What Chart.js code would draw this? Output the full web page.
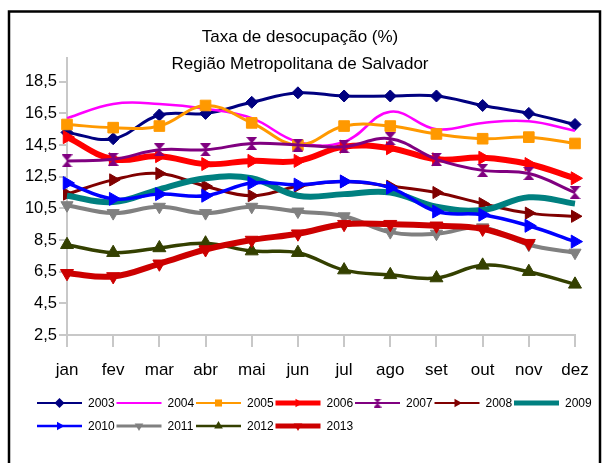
<!DOCTYPE html>
<html><head><meta charset="utf-8">
<script src="https://cdn.jsdelivr.net/npm/chart.js@4"></script>
<style>html,body{margin:0;padding:0;background:#fff;}#wrap{width:607px;height:463px;position:relative;}</style>
</head><body><div id="wrap"><canvas id="c" width="607" height="463"></canvas></div>
<script>
const titleLines = ['Taxa de desocupação (%)', 'Região Metropolitana de Salvador'];
const months = ['jan','fev','mar','abr','mai','jun','jul','ago','set','out','nov','dez'];
const yTicks = [2.5, 4.5, 6.5, 8.5, 10.5, 12.5, 14.5, 16.5, 18.5];
const yTickLabels = ['2,5','4,5','6,5','8,5','10,5','12,5','14,5','16,5','18,5'];
const years = ['2003','2004','2005','2006','2007','2008','2009','2010','2011','2012','2013'];

const v2003 = [15.3, 14.9, 16.4, 16.5, 17.2, 17.8, 17.6, 17.6, 17.6, 17.0, 16.5, 15.8];
const v2004 = [16.2, 17.1, 17.1, 16.8, 16.2, 14.7, 14.7, 16.6, 15.5, 15.9, 16.0, 15.4];
const v2005 = [15.8, 15.6, 15.7, 17.0, 15.9, 14.5, 15.7, 15.7, 15.2, 14.9, 15.0, 14.6];
const v2006 = [15.0, 13.6, 13.8, 13.3, 13.5, 13.5, 14.4, 14.3, 13.6, 13.7, 13.3, 12.4];
const v2007 = [13.5, 13.6, 14.2, 14.2, 14.6, 14.5, 14.4, 14.9, 13.6, 12.9, 12.7, 11.5];
const v2008 = [11.4, 12.3, 12.7, 11.9, 11.3, 11.9, 12.2, 11.9, 11.5, 10.8, 10.2, 10.0];
const v2009 = [11.3, 10.9, 11.7, 12.4, 12.4, 11.3, 11.4, 11.5, 10.6, 10.4, 11.2, 10.8];
const v2010 = [12.1, 11.1, 11.4, 11.3, 12.1, 12.0, 12.2, 11.8, 10.3, 10.1, 9.4, 8.4];
const v2011 = [10.7, 10.2, 10.6, 10.2, 10.6, 10.3, 10.0, 9.0, 8.9, 9.3, 8.2, 7.7];
const v2012 = [8.2, 7.7, 8.0, 8.3, 7.8, 7.7, 6.6, 6.3, 6.1, 6.9, 6.5, 5.7];
const v2013 = [6.4, 6.2, 7.0, 7.9, 8.5, 8.9, 9.5, 9.5, 9.4, 9.2, 8.3, null];
const values = [v2003, v2004, v2005, v2006, v2007, v2008, v2009, v2010, v2011, v2012, v2013];

const FONT = '"Liberation Sans", Arial, sans-serif';

function makeHourglass(w, h, color) {
  const cv = document.createElement('canvas');
  cv.width = w; cv.height = h;
  const g = cv.getContext('2d');
  g.fillStyle = color;
  g.beginPath();
  g.moveTo(0, 0); g.lineTo(w, 0); g.lineTo(w / 2, h / 2); g.closePath();
  g.moveTo(0, h); g.lineTo(w, h); g.lineTo(w / 2, h / 2); g.closePath();
  g.fill();
  return cv;
}

const styles = [
  {color: '#000080', width: 3,   point: 'rectRot',  r: 6,   rot: 0},
  {color: '#ff00ff', width: 2.5, point: false,      r: 0,   rot: 0},
  {color: '#ff9900', width: 3,   point: 'rect',     r: 7.5, rot: 0},
  {color: '#ff0000', width: 6,   point: 'triangle', r: 7.5, rot: 90},
  {color: '#800080', width: 3,   point: 'hourglass',r: 6,   rot: 0},
  {color: '#800000', width: 3,   point: 'triangle', r: 7,   rot: 90},
  {color: '#008080', width: 6,   point: false,      r: 0,   rot: 0},
  {color: '#0000ff', width: 3.5, point: 'triangle', r: 7.5, rot: 90},
  {color: '#808080', width: 4,   point: 'triangle', r: 7,   rot: 180},
  {color: '#344000', width: 3.5, point: 'triangle', r: 7.5, rot: 0},
  {color: '#cc0000', width: 6,   point: 'triangle', r: 7.5, rot: 180}
];

const hourglassBig = makeHourglass(11, 13, '#800080');
const hourglassSmall = makeHourglass(8, 9, '#800080');

const datasets = years.map((y, i) => {
  const s = styles[i];
  let ps = s.point;
  if (ps === 'hourglass') ps = hourglassBig;
  return {
    label: y,
    data: values[i],
    borderColor: s.color,
    backgroundColor: s.color,
    borderWidth: s.width,
    pointStyle: ps || 'circle',
    pointRadius: s.point ? s.r : 0,
    pointHoverRadius: s.point ? s.r : 0,
    pointRotation: s.rot,
    pointBackgroundColor: s.color,
    pointBorderColor: s.color,
    pointBorderWidth: 1,
    tension: 0.4,
    fill: false,
    spanGaps: false,
    order: years.length - i
  };
});

function drawMarker(ctx, s, x, y, r) {
  ctx.save();
  ctx.fillStyle = s.color;
  ctx.beginPath();
  if (s.point === 'hourglass') {
    ctx.drawImage(hourglassSmall, x - hourglassSmall.width / 2, y - hourglassSmall.height / 2);
    ctx.restore();
    return;
  } else if (s.point === 'rectRot') {
    ctx.moveTo(x, y - r); ctx.lineTo(x + r, y); ctx.lineTo(x, y + r); ctx.lineTo(x - r, y);
  } else if (s.point === 'rect') {
    const h = r * Math.SQRT1_2;
    ctx.rect(x - h, y - h, 2 * h, 2 * h);
  } else if (s.point === 'triangle') {
    let a = s.rot * Math.PI / 180;
    for (let k = 0; k < 3; k++) {
      const px = x + Math.sin(a) * r, py = y - Math.cos(a) * r;
      if (k === 0) ctx.moveTo(px, py); else ctx.lineTo(px, py);
      a += 2 * Math.PI / 3;
    }
  }
  ctx.closePath();
  ctx.fill();
  ctx.restore();
}

const decor = {
  id: 'decor',
  beforeDraw(chart) {
    const ctx = chart.ctx;
    ctx.save();
    ctx.fillStyle = '#fff';
    ctx.fillRect(0, 0, chart.width, chart.height);
    ctx.restore();
  },
  afterDraw(chart) {
    const ctx = chart.ctx;
    ctx.save();
    // border
    ctx.strokeStyle = '#000';
    ctx.lineWidth = 2.5;
    ctx.strokeRect(9, 11.5, 591, 470);
    // title
    ctx.fillStyle = '#000';
    ctx.font = '17px ' + FONT;
    ctx.textAlign = 'center';
    ctx.textBaseline = 'alphabetic';
    ctx.fillText(titleLines[0], 300, 42);
    ctx.fillText(titleLines[1], 300, 69);
    // legend
    ctx.font = '12px ' + FONT;
    ctx.textAlign = 'left';
    ctx.textBaseline = 'middle';
    years.forEach((y, i) => {
      const s = styles[i];
      const row = i < 7 ? 0 : 1;
      const col = i % 7;
      const x0 = 37 + col * 79.5;
      const yy = row ? 426 : 403;
      ctx.strokeStyle = s.color;
      ctx.lineWidth = Math.max(2, s.width - 1);
      ctx.beginPath();
      ctx.moveTo(x0, yy); ctx.lineTo(x0 + 45, yy);
      ctx.stroke();
      if (s.point) drawMarker(ctx, s, x0 + 22.5, yy, 5);
      ctx.fillStyle = '#000';
      ctx.fillText(y, x0 + 51, yy + 1);
    });
    ctx.restore();
  }
};

new Chart(document.getElementById('c'), {
  type: 'line',
  data: {labels: months, datasets},
  plugins: [decor],
  options: {
    responsive: false,
    animation: false,
    events: [],
    layout: {padding: {left: 0, right: 32, top: 58, bottom: 83}},
    plugins: {legend: {display: false}, title: {display: false}, tooltip: {enabled: false}},
    scales: {
      x: {
        type: 'category',
        offset: false,
        grid: {display: true, drawOnChartArea: false, drawTicks: true, tickLength: 12, color: '#c8c8c8', lineWidth: 2},
        border: {display: true, color: '#c8c8c8', width: 2},
        ticks: {font: {family: FONT, size: 17}, color: '#000', padding: 13, maxRotation: 0, autoSkip: false},
        afterFit(s) { s.height = 45; }
      },
      y: {
        min: 2.5, max: 20,
        afterBuildTicks(s) { s.ticks = yTicks.map(v => ({value: v})); },
        grid: {display: true, drawOnChartArea: false, drawTicks: true, tickLength: 8, color: '#c8c8c8', lineWidth: 2},
        border: {display: true, color: '#c8c8c8', width: 2},
        ticks: {
          font: {family: FONT, size: 16.5}, color: '#000', padding: 2,
          callback(v, idx) { const k = yTicks.indexOf(v); return k >= 0 ? yTickLabels[k] : ''; }
        },
        afterFit(s) { s.width = 67; }
      }
    }
  }
});
</script></body></html>
